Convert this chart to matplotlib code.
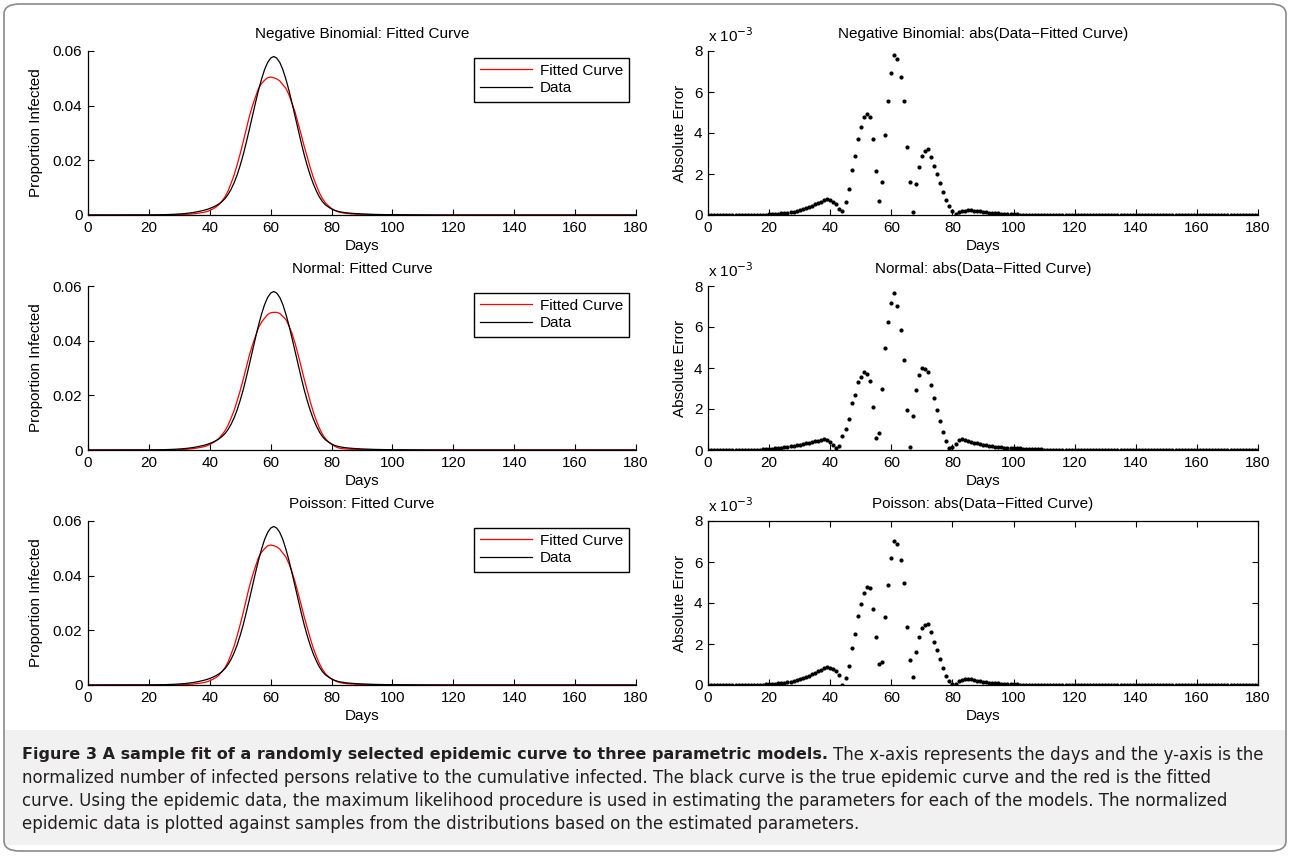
import numpy as np
import matplotlib
matplotlib.use("Agg")
import matplotlib.pyplot as plt
from matplotlib.patches import FancyBboxPatch, Rectangle

plt.rcParams['font.family'] = ['Liberation Sans', 'DejaVu Sans']

# days on the x axis
days = np.arange(0, 181)

# normalized epidemic data, days 20..110 (x 1e-3)
data_vals = [0.03, 0.04, 0.05, 0.07, 0.09, 0.12, 0.15, 0.19, 0.24, 0.30,
             0.37, 0.45, 0.55, 0.67, 0.82, 1.00, 1.20, 1.45, 1.70, 2.00,
             2.40, 2.85, 3.40, 4.05, 4.90, 6.00, 7.50, 9.40, 11.8, 14.7,
             18.2, 22.1, 26.6, 31.3, 36.2, 41.0, 45.6, 49.7, 53.2, 55.8,
             57.4, 58.0, 57.4, 55.8, 53.2, 49.7, 45.6, 41.0, 36.2, 31.3,
             26.6, 22.1, 18.1, 14.5, 11.4, 8.8, 6.6, 4.9, 3.7, 2.9,
             2.2, 1.7, 1.35, 1.1, 0.92, 0.78, 0.67, 0.58, 0.50, 0.44,
             0.38, 0.33, 0.29, 0.25, 0.22, 0.19, 0.17, 0.15, 0.13, 0.12,
             0.11, 0.10, 0.09, 0.08, 0.07, 0.06, 0.05, 0.04, 0.03, 0.02,
             0.01]

# fitted curves, days 20..110 (x 1e-3)
fit_nb = [0, 0, 0, 0.01, 0.01, 0.02, 0.03, 0.05, 0.08, 0.11,
          0.14, 0.17, 0.23, 0.28, 0.37, 0.48, 0.63, 0.80, 0.97, 1.24,
          1.67, 2.22, 2.86, 3.77, 5.09, 6.65, 8.77, 11.61, 14.66, 18.43,
          22.49, 26.87, 31.55, 36.09, 39.89, 43.16, 46.28, 48.11, 49.29, 50.23,
          50.48, 50.18, 49.80, 49.05, 47.63, 46.36, 43.98, 40.87, 37.71, 33.65,
          29.49, 25.22, 21.33, 17.34, 13.80, 10.80, 8.16, 6.02, 4.41, 3.32,
          2.38, 1.76, 1.22, 0.92, 0.71, 0.56, 0.45, 0.37, 0.30, 0.26,
          0.22, 0.19, 0.17, 0.14, 0.13, 0.11, 0.10, 0.09, 0.08, 0.08,
          0.08, 0.07, 0.07, 0.06, 0.06, 0.05, 0.04, 0.03, 0.02, 0.02,
          0.01]
fit_norm = [0, 0, 0, 0, 0, 0, 0, 0.01, 0.04, 0.07,
            0.11, 0.16, 0.23, 0.32, 0.43, 0.58, 0.75, 0.97, 1.18, 1.51,
            2.01, 2.62, 3.30, 4.24, 5.56, 7.04, 9.02, 11.67, 14.50, 18.00,
            21.78, 25.89, 30.30, 34.65, 38.32, 41.58, 44.77, 46.74, 48.22, 49.55,
            50.21, 50.36, 50.36, 49.95, 48.83, 47.74, 45.44, 42.68, 39.13, 34.94,
            30.58, 26.04, 21.89, 17.69, 13.94, 10.76, 8.01, 5.77, 4.14, 3.01,
            2.04, 1.39, 0.86, 0.58, 0.43, 0.34, 0.28, 0.23, 0.18, 0.15,
            0.12, 0.10, 0.09, 0.07, 0.06, 0.04, 0.04, 0.03, 0.02, 0.02,
            0.01, 0, 0, 0, 0, 0, 0, 0, 0, 0,
            0]
fit_pois = [0, 0, 0, 0, 0, 0, 0.01, 0.03, 0.04, 0.06,
            0.09, 0.12, 0.17, 0.23, 0.30, 0.42, 0.54, 0.70, 0.87, 1.14,
            1.57, 2.07, 2.72, 3.56, 4.92, 6.34, 8.41, 11.22, 14.27, 18.07,
            22.15, 26.60, 31.36, 36.02, 39.92, 43.36, 46.62, 48.58, 49.88, 50.92,
            51.22, 50.96, 50.54, 49.72, 48.24, 46.85, 44.36, 41.39, 37.81, 33.66,
            29.40, 25.01, 21.08, 17.07, 13.50, 10.51, 7.88, 5.75, 4.16, 3.10,
            2.25, 1.67, 1.14, 0.84, 0.61, 0.49, 0.39, 0.32, 0.29, 0.24,
            0.22, 0.19, 0.17, 0.15, 0.13, 0.11, 0.10, 0.09, 0.08, 0.08,
            0.08, 0.07, 0.07, 0.06, 0.06, 0.05, 0.04, 0.03, 0.02, 0.02,
            0.01]

# absolute error, days 15..110 (x 1e-3)
err_nb = [0.01, 0.01, 0.02, 0.02, 0.02,
          0.03, 0.04, 0.05, 0.06, 0.08, 0.10, 0.12, 0.14, 0.16, 0.19,
          0.23, 0.28, 0.32, 0.39, 0.45, 0.52, 0.57, 0.65, 0.73, 0.76,
          0.73, 0.63, 0.54, 0.28, 0.19, 0.65, 1.27, 2.21, 2.86, 3.73,
          4.29, 4.77, 4.95, 4.79, 3.69, 2.16, 0.68, 1.59, 3.91, 5.57,
          6.92, 7.82, 7.60, 6.75, 5.57, 3.34, 1.62, 0.13, 1.51, 2.35,
          2.89, 3.12, 3.23, 2.84, 2.40, 2.00, 1.56, 1.12, 0.71, 0.42,
          0.18, 0.06, 0.13, 0.18, 0.21, 0.22, 0.22, 0.21, 0.20, 0.18,
          0.16, 0.14, 0.12, 0.11, 0.09, 0.08, 0.07, 0.06, 0.05, 0.04,
          0.03, 0.03, 0.02, 0.02, 0.01, 0.01, 0.01, 0.01, 0, 0,
          0]
err_norm = [0.01, 0.02, 0.02, 0.03, 0.04,
            0.05, 0.06, 0.08, 0.10, 0.11, 0.13, 0.15, 0.18, 0.20, 0.23,
            0.26, 0.29, 0.32, 0.35, 0.39, 0.42, 0.45, 0.48, 0.52, 0.49,
            0.39, 0.23, 0.10, 0.19, 0.66, 1.04, 1.52, 2.27, 2.70, 3.30,
            3.58, 3.79, 3.70, 3.35, 2.12, 0.58, 0.83, 2.96, 4.98, 6.25,
            7.19, 7.64, 7.04, 5.85, 4.37, 1.96, 0.16, 1.68, 2.93, 3.64,
            3.98, 3.94, 3.79, 3.19, 2.54, 1.96, 1.41, 0.87, 0.44, 0.11,
            0.16, 0.31, 0.49, 0.52, 0.49, 0.44, 0.39, 0.35, 0.32, 0.29,
            0.26, 0.23, 0.20, 0.18, 0.16, 0.15, 0.13, 0.12, 0.11, 0.10,
            0.10, 0.09, 0.08, 0.07, 0.06, 0.05, 0.05, 0.04, 0.03, 0.03,
            0.02]
err_pois = [0.01, 0.01, 0.02, 0.02, 0.03,
            0.04, 0.05, 0.06, 0.08, 0.10, 0.12, 0.14, 0.16, 0.20, 0.24,
            0.28, 0.33, 0.38, 0.44, 0.52, 0.58, 0.66, 0.75, 0.83, 0.86,
            0.83, 0.78, 0.68, 0.49, 0.02, 0.34, 0.91, 1.82, 2.47, 3.37,
            3.95, 4.50, 4.76, 4.72, 3.72, 2.36, 1.02, 1.12, 3.32, 4.88,
            6.18, 7.04, 6.86, 6.08, 4.96, 2.85, 1.24, 0.39, 1.61, 2.36,
            2.80, 2.91, 2.98, 2.57, 2.10, 1.71, 1.28, 0.85, 0.46, 0.20,
            0.05, 0.03, 0.21, 0.26, 0.31, 0.29, 0.28, 0.26, 0.21, 0.20,
            0.16, 0.14, 0.12, 0.10, 0.09, 0.08, 0.07, 0.06, 0.05, 0.04,
            0.03, 0.03, 0.02, 0.02, 0.01, 0.01, 0.01, 0.01, 0, 0,
            0]

models = ['Negative Binomial', 'Normal', 'Poisson']
fits = [fit_nb, fit_norm, fit_pois]
errs = [err_nb, err_norm, err_pois]


def full(vals, start):
    arr = np.zeros(len(days))
    arr[start:start + len(vals)] = vals
    return arr


data = full(data_vals, 20) / 1000

W, H = 1290, 857
fig = plt.figure(figsize=(W / 100, H / 100), dpi=100)

# outer frame and caption background
fig.patches.append(Rectangle((4 / W, 12 / H), 1282 / W, 115 / H, transform=fig.transFigure,
                             facecolor='#f1f1f1', edgecolor='none', zorder=0))
fig.patches.append(FancyBboxPatch((4 / W, 6 / H), 1282 / W, 847 / H, transform=fig.transFigure,
                                  boxstyle='round,pad=0,rounding_size=0.012', facecolor='none',
                                  edgecolor='#8a8a8a', lw=1.2, zorder=1))

fs = 11
bottoms = [215, 450, 685]
for i, name in enumerate(models):
    b = 1 - bottoms[i] / H
    h = 164 / H
    axl = fig.add_axes([88 / W, b, 548 / W, h])
    axr = fig.add_axes([708 / W, b, 550 / W, h])

    fit = full(fits[i], 20) / 1000
    axl.plot(days, fit, color='red', lw=0.9, label='Fitted Curve')
    axl.plot(days, data, color='black', lw=0.9, label='Data')
    axl.set_xlim(0, 180)
    axl.set_ylim(0, 0.06)
    axl.set_yticks([0, 0.02, 0.04, 0.06])
    axl.set_yticklabels(['0', '0.02', '0.04', '0.06'])
    axl.set_xticks(range(0, 181, 20))
    axl.set_title(name + ': Fitted Curve', fontsize=fs, pad=9.5)
    axl.set_ylabel('Proportion Infected', fontsize=fs, labelpad=7)
    axl.set_xlabel('Days', fontsize=fs, labelpad=3)
    leg = axl.legend(loc='upper right', bbox_to_anchor=(0.987, 0.96), fontsize=fs,
                     fancybox=False, framealpha=1, edgecolor='black', handlelength=3.4,
                     borderpad=0.4, labelspacing=0.25, handletextpad=0.5, borderaxespad=0)
    leg.get_frame().set_linewidth(1.0)

    err = full(errs[i], 15)
    axr.plot(days, err, linestyle='none', marker='.', color='black', markersize=4)
    axr.set_xlim(0, 180)
    axr.set_ylim(0, 8)
    axr.set_yticks([0, 2, 4, 6, 8])
    axr.set_xticks(range(0, 181, 20))
    axr.set_title(name + ': abs(Data\u2212Fitted Curve)', fontsize=fs, pad=9.5)
    axr.set_ylabel('Absolute Error', fontsize=fs, labelpad=5)
    axr.set_xlabel('Days', fontsize=fs, labelpad=3)
    axr.text(0.0, 1.035, r'x 10$^{-3}$', transform=axr.transAxes, fontsize=fs,
             ha='left', va='bottom')

    boxed = [axr] if i == 2 else []
    for ax in (axl, axr):
        ax.tick_params(direction='in', length=4, width=0.8, labelsize=fs, pad=4,
                       top=ax in boxed, right=ax in boxed)
        for side in ('top', 'right'):
            ax.spines[side].set_visible(ax in boxed)
        for sp in ax.spines.values():
            sp.set_linewidth(0.9)

# caption
cap_font = ['DejaVu Sans']
x0 = 22 / W
bold = fig.text(x0, 1 - 755 / H, 'Figure 3 A sample fit of a randomly selected epidemic curve to three parametric models.',
                fontsize=11.5, fontweight='bold', family=cap_font, va='center', color='#231f20')
fig.canvas.draw()
bb = bold.get_window_extent()
fig.text(bb.x1 / W + 5 / W, 1 - 755 / H, 'The x-axis represents the days and the y-axis is the',
         fontsize=12, family=cap_font, va='center', color='#231f20')
lines = ['normalized number of infected persons relative to the cumulative infected. The black curve is the true epidemic curve and the red is the fitted',
         'curve. Using the epidemic data, the maximum likelihood procedure is used in estimating the parameters for each of the models. The normalized',
         'epidemic data is plotted against samples from the distributions based on the estimated parameters.']
for k, line in enumerate(lines):
    fig.text(x0, 1 - (778 + 23 * k) / H, line, fontsize=12, family=cap_font,
             va='center', color='#231f20')

fig.savefig('out.png', dpi=100)
